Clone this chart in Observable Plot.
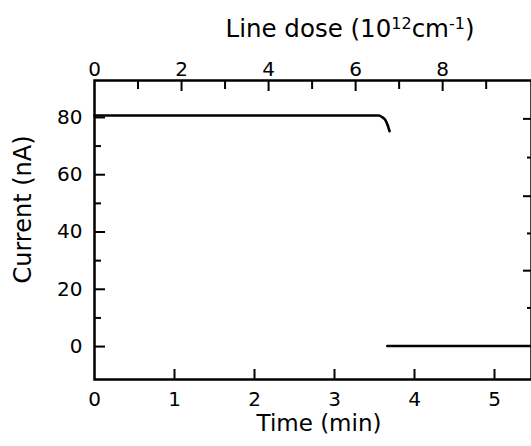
<!DOCTYPE html>
<html>
<head>
<meta charset="utf-8">
<script src="https://cdn.jsdelivr.net/npm/d3@7"></script>
<script src="https://cdn.jsdelivr.net/npm/@observablehq/plot@0.6"></script>
<style>
  html, body { margin: 0; padding: 0; background: #fff; }
</style>
</head>
<body>
<div id="chart"></div>
<script>
// ---- data ----
const timeTicks = [0, 1, 2, 3, 4, 5];            // min
const doseMajor = [0, 2, 4, 6, 8];                // 10^12 cm^-1
const doseMinor = [1, 3, 5, 7, 9];
const currentMajor = [0, 20, 40, 60, 80];         // nA
const currentMinor = [10, 30, 50, 70];
const rightTicksLong = [79.5, 52.5, 26.5];
const rightTicksShort = [66, 39.5, 13.5];
const doseToTime = 0.544;                         // min per unit of line dose

const beforeTime    = [0, 3.554, 3.596, 3.638, 3.666, 3.688];
const beforeCurrent = [80.7, 80.7, 80.1, 79.0, 77.2, 75.2];
const afterTime     = [3.66, 5.4625];
const afterCurrent  = [0.2, 0.2];

// ---- build ----
const before = beforeTime.map((t, i) => ({t, c: beforeCurrent[i]}));
const after = afterTime.map((t, i) => ({t, c: afterCurrent[i]}));

const W = 531, H = 446, mL = 94, mR = 0, mT = 80, mB = 67;
const plotW = W - mL - mR, plotH = H - mT - mB;
const font = "DejaVu Sans";
const doseLabel = "Line dose (10¹²cm⁻¹)";

const chart = Plot.plot({
  width: W, height: H,
  marginLeft: mL, marginRight: mR, marginTop: mT, marginBottom: mB,
  x: {domain: [0, 5.4625]},
  y: {domain: [-11.5, 92.9]},
  style: {fontFamily: font, background: "white", color: "black"},
  marks: [
    Plot.frame({stroke: "black", strokeWidth: 2.5}),
    // inward ticks
    Plot.tickX(timeTicks.slice(1), {x: d => d, insetTop: plotH - 10, stroke: "black", strokeWidth: 2}),
    Plot.tickX(doseMajor.slice(1), {x: d => d * doseToTime, insetBottom: plotH - 11, stroke: "black", strokeWidth: 2}),
    Plot.tickX(doseMinor, {x: d => d * doseToTime, insetBottom: plotH - 9, stroke: "black", strokeWidth: 2}),
    Plot.tickY(currentMajor, {y: d => d, insetRight: plotW - 11, stroke: "black", strokeWidth: 2}),
    Plot.tickY(currentMinor, {y: d => d, insetRight: plotW - 7, stroke: "black", strokeWidth: 2}),
    Plot.tickY(rightTicksLong, {y: d => d, insetLeft: plotW - 8, stroke: "black", strokeWidth: 2}),
    Plot.tickY(rightTicksShort, {y: d => d, insetLeft: plotW - 4, stroke: "black", strokeWidth: 2}),
    // tick labels
    Plot.axisX(timeTicks, {anchor: "bottom", tickSize: 0, tickPadding: 12, fontSize: 20, label: null}),
    Plot.axisX(doseMajor.map(d => d * doseToTime), {anchor: "top", tickSize: 0, tickPadding: 5, fontSize: 20, label: null,
      tickFormat: t => String(Math.round(t / doseToTime))}),
    Plot.axisY(currentMajor, {anchor: "left", tickSize: 0, tickPadding: 12, fontSize: 20, label: null}),
    // data
    Plot.line(before, {x: "t", y: "c", stroke: "black", strokeWidth: 2.6, curve: "monotone-x"}),
    Plot.line(after, {x: "t", y: "c", stroke: "black", strokeWidth: 2.6}),
    // axis titles
    Plot.text(["Time (min)"], {frameAnchor: "bottom", text: d => d, dx: 6, dy: 44, lineAnchor: "middle", textAnchor: "middle", fontSize: 23, fill: "black"}),
    Plot.text([doseLabel], {frameAnchor: "top", text: d => d, dx: 37, dy: -51, lineAnchor: "middle", textAnchor: "middle", fontSize: 24.5, fill: "black"}),
    Plot.text(["Current (nA)"], {frameAnchor: "left", text: d => d, rotate: -90, dx: -71.5, dy: -20.5, lineAnchor: "middle", textAnchor: "middle", fontSize: 24, fill: "black"})
  ]
});

// superscripts in the dose label
d3.select(chart).selectAll("text").each(function() {
  if (this.textContent === doseLabel) {
    const t = d3.select(this);
    t.text(null);
    t.append("tspan").text("Line dose (10");
    t.append("tspan").attr("font-size", 16).attr("dy", -8).text("12");
    t.append("tspan").attr("dy", 8).text("cm");
    t.append("tspan").attr("font-size", 16).attr("dy", -8).text("-1");
    t.append("tspan").attr("dy", 8).text(")");
  }
});

document.getElementById("chart").appendChild(chart);
</script>
</body>
</html>
